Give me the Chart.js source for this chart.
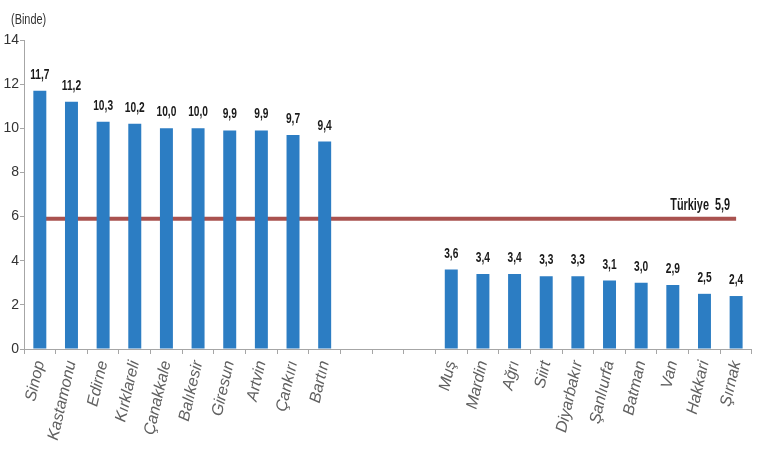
<!DOCTYPE html>
<html>
<head>
<meta charset="utf-8">
<script src="https://cdn.jsdelivr.net/npm/chart.js@4"></script>
<style>
  html, body { margin: 0; padding: 0; background: #fff; }
  #wrap { width: 760px; height: 450px; }
</style>
</head>
<body>
<div id="wrap"><canvas id="rateChart" width="760" height="450"></canvas></div>
<script>
const highProvinces = ["Sinop", "Kastamonu", "Edirne", "Kırklareli", "Çanakkale", "Balıkesir", "Giresun", "Artvin", "Çankırı", "Bartın"];
const highRates = [11.7, 11.2, 10.3, 10.2, 10.0, 10.0, 9.9, 9.9, 9.7, 9.4];
const lowProvinces = ["Muş", "Mardin", "Ağrı", "Siirt", "Diyarbakır", "Şanlıurfa", "Batman", "Van", "Hakkari", "Şırnak"];
const lowRates = [3.6, 3.4, 3.4, 3.3, 3.3, 3.1, 3.0, 2.9, 2.5, 2.4];
const gapLabels = ["", "", ""];
const turkiyeRate = 5.9;
const yTicks = [0, 2, 4, 6, 8, 10, 12, 14];

const labels = [...highProvinces, ...gapLabels, ...lowProvinces];
const barValues = [...highRates, ...gapLabels.map(() => null), ...lowRates];
const lineValues = labels.map(() => turkiyeRate);

const sans = "'Liberation Sans', Arial, sans-serif";

function fmt(v) {
    return v.toFixed(1).replace(".", ",");
}

// squeezed text, the source uses a narrow font
function narrowText(ctx, text, x, y, sx) {
    ctx.save();
    ctx.translate(x, y);
    ctx.scale(sx, 1);
    ctx.fillText(text, 0, 0);
    ctx.restore();
}

const annotate = {
    id: "annotate",
    afterDatasetsDraw(chart) {
        const ctx = chart.ctx;
        ctx.save();
        ctx.fillStyle = "#1a1a1a";
        ctx.font = "bold 15px " + sans;
        ctx.textAlign = "center";
        ctx.textBaseline = "alphabetic";
        chart.getDatasetMeta(0).data.forEach((bar, i) => {
            const v = barValues[i];
            if (v == null) return;
            narrowText(ctx, fmt(v), bar.x, bar.y - 12, 0.68);
        });
        const pts = chart.getDatasetMeta(1).data;
        const last = pts[pts.length - 1];
        ctx.textAlign = "right";
        ctx.font = "bold 16px " + sans;
        narrowText(ctx, "Türkiye  " + fmt(turkiyeRate), last.x - 6, last.y - 9, 0.68);
        ctx.textAlign = "left";
        ctx.font = "14px " + sans;
        ctx.fillStyle = "#333";
        narrowText(ctx, "(Binde)", 11, 24, 0.78);
        ctx.restore();
    },
};

new Chart(document.getElementById("rateChart"), {
    data: {
        labels: labels,
        datasets: [
            {
                type: "bar",
                data: barValues,
                backgroundColor: "#2c7dc3",
                barPercentage: 0.82,
                categoryPercentage: 0.5,
                order: 1,
            },
            {
                type: "line",
                data: lineValues,
                borderColor: "#a9524f",
                borderWidth: 4,
                pointRadius: 0,
                fill: false,
                order: 2,
            },
        ],
    },
    options: {
        responsive: false,
        animation: false,
        layout: { padding: { top: 40, right: 8, left: 0, bottom: 0 } },
        plugins: {
            legend: { display: false },
            tooltip: { enabled: false },
        },
        scales: {
            x: {
                offset: true,
                grid: {
                    display: true,
                    drawOnChartArea: false,
                    drawTicks: true,
                    tickLength: 5,
                    color: "#a6a6a6",
                    offset: true,
                },
                border: { display: true, color: "#a6a6a6" },
                ticks: {
                    autoSkip: false,
                    minRotation: 77,
                    maxRotation: 77,
                    padding: 5,
                    color: "#606060",
                    font: { family: sans, size: 16, style: "italic" },
                },
                afterFit: (scale) => { scale.height = 101; },
            },
            y: {
                min: 0,
                max: 14,
                afterBuildTicks: (scale) => { scale.ticks = yTicks.map((v) => ({ value: v })); },
                grid: {
                    display: true,
                    drawOnChartArea: false,
                    drawTicks: true,
                    tickLength: 4,
                    color: "#a6a6a6",
                },
                border: { display: true, color: "#a6a6a6" },
                ticks: {
                    padding: 1,
                    color: "#333",
                    font: { family: sans, size: 14 },
                },
                afterFit: (scale) => { scale.width = 24; },
            },
        },
    },
    plugins: [annotate],
});
</script>
</body>
</html>
